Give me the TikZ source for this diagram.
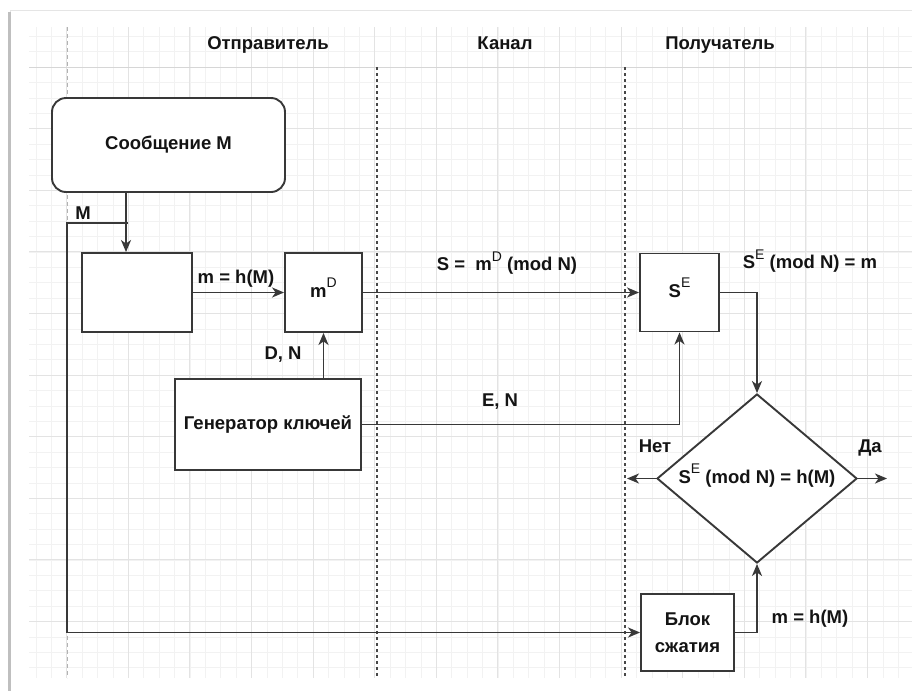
\documentclass[tikz,border=0pt]{standalone}
\usepackage{fontspec}
\setmainfont{Liberation Sans}
\usetikzlibrary{arrows.meta,shapes.geometric}
\tikzset{
  txt/.style={font=\fontsize{18.5}{22}\selectfont\bfseries, text=black!92, inner sep=0pt, text height=13.5pt, text depth=4pt},
  boxst/.style={draw=black!78, line width=1.9pt, fill=white, inner sep=0pt, txt},
  conn/.style={draw=black!78, line width=1.9pt},
  arr/.style={conn, -{Stealth[length=12pt,width=10pt,inset=3.5pt]}},
  lane/.style={draw=black!72, line width=1.3pt, dash pattern=on 3pt off 3pt},
  lanelight/.style={draw=black!30, line width=1pt, dash pattern=on 4pt off 3pt},
  gminor/.style={draw=black!5, line width=0.6pt},
  gmajor/.style={draw=black!11, line width=0.8pt}
}
\newcommand{\sps}[1]{\raisebox{0.52em}{\fontsize{14}{14}\selectfont\mdseries #1}}
\begin{document}
\begin{tikzpicture}[x=1pt,y=-1pt]
\useasboundingbox (0,0) rectangle (912,691);
\fill[white] (0,0) rectangle (912,691);
% page shadow
\draw[black!10, line width=1pt] (10,691) -- (10,10) -- (912,10);
\draw[black!25, line width=2.5pt] (9.5,12) -- (9.5,691);
% grid
\begin{scope}
\clip (29,27) rectangle (912,678);
\foreach \i in {-3,...,58} {
  \draw[gminor] ({66.6+15.4*\i},27) -- ({66.6+15.4*\i},678);
}
\foreach \i in {-3,...,45} {
  \draw[gminor] (29,{67+15.4*\i}) -- (912,{67+15.4*\i});
}
\foreach \i in {-1,...,15} {
  \draw[gmajor] ({66.6+61.6*\i},27) -- ({66.6+61.6*\i},678);
}
\foreach \i in {-1,...,11} {
  \draw[gmajor] (29,{67+61.6*\i}) -- (912,{67+61.6*\i});
}
\end{scope}
\draw[black!16, line width=1pt] (29,67) -- (912,67);
% lanes
\draw[lanelight] (67,27) -- (67,678);
\draw[lane] (377,67) -- (377,678);
\draw[lane] (625,67) -- (625,678);
% headers
\node[txt] (h1) at (268,45) {Отправитель};
\node[txt] (h2) at (505,45) {Канал};
\node[txt] (h3) at (720,45) {Получатель};
% nodes
\node[boxst, rounded corners=14pt, minimum width=233pt, minimum height=94pt] (msg) at (168.5,145) {Сообщение M};
\node[boxst, minimum width=110pt, minimum height=79pt] (hbox) at (137,292.5) {};
\node[boxst, minimum width=77pt, minimum height=79pt] (md) at (323.5,292.5) {m\sps{D}};
\node[boxst, minimum width=186pt, minimum height=91pt] (gen) at (268,424.5) {Генератор ключей};
\node[boxst, minimum width=79pt, minimum height=78pt] (se) at (679.5,292.5) {S\sps{E}};
\node[boxst, diamond, shape aspect=1.18, minimum width=200pt, minimum height=169pt] (dia) at (757,478.5) {S\sps{E} (mod N) = h(M)};
\node[boxst, align=center, minimum width=93pt, minimum height=77pt, text height=, text depth=, font=\fontsize{18.5}{27}\selectfont\bfseries] (blok) at (687.5,632.5) {Блок\\сжатия};
% coordinates
\coordinate (c1) at (126,0);
\coordinate (mstart) at (128,223);
\coordinate (mleft) at (67,633);
\coordinate (noend) at (627,478.5);
\coordinate (yesend) at (887,478.5);
% connectors
\draw[arr] (msg.south -| c1) -- (hbox.north -| c1);
\draw[arr] (mstart) -- (mstart -| mleft) -- (mleft |- blok.west) -- (blok.west);
\draw[arr] (hbox.east) -- (md.west);
\draw[arr] (gen.north -| md.south) -- (md.south);
\draw[arr] (md.east) -- (se.west);
\draw[arr] (gen.east) -| (se.south);
\draw[arr] (se.east) -| (dia.north);
\draw[arr] (dia.west) -- (noend);
\draw[arr] (dia.east) -- (yesend);
\draw[arr] (blok.east) -| (dia.south);
% labels
\node[txt] (lM) at (83,215) {M};
\node[txt] (l1) at (236,279) {m = h(M)};
\node[txt] (l2) at (283,355) {D, N};
\node[txt] (l3) at (507,266) {S =\ \ m\sps{D} (mod N)};
\node[txt] (l4) at (500,402) {E, N};
\node[txt] (l5) at (810,264) {S\sps{E} (mod N) = m};
\node[txt] (l6) at (655,448) {Нет};
\node[txt] (l7) at (870,448) {Да};
\node[txt] (l8) at (810,619) {m = h(M)};
\end{tikzpicture}
\end{document}
